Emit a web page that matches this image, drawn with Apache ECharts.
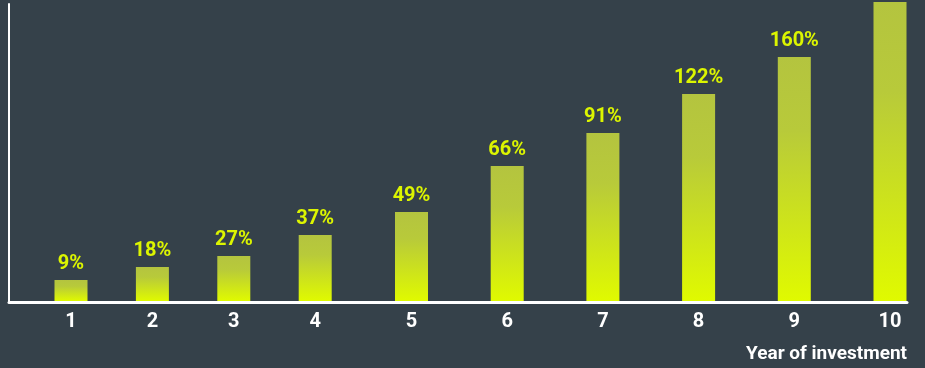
<!DOCTYPE html>
<html>
<head>
<meta charset="utf-8">
<script src="https://cdn.jsdelivr.net/npm/echarts@6/dist/echarts.min.js"></script>
<style>
html,body{margin:0;padding:0;background:#35414a;}
#chart{width:925px;height:368px;}
</style>
</head>
<body>
<div id="chart"></div>
<script>
// Data
const years = ['1', '2', '3', '4', '5', '6', '7', '8', '9', '10'];
// bar heights as drawn in the picture (relative units, 0-300 scale)
const barHeights = [21, 34, 45, 66, 89, 135, 168, 207, 244, 299];
// value labels shown above bars (the last one is outside the picture)
const valueLabels = ['9%', '18%', '27%', '37%', '49%', '66%', '91%', '122%', '160%', ''];
const axisTitle = 'Year of investment';
const firstGroupSize = 4; // years 1-4 are spaced more closely than 5-10

const labelColor = '#dcf500';
const font = 'Roboto';

const barGradient = new echarts.graphic.LinearGradient(0, 0, 0, 1, [
  { offset: 0, color: '#b4c43f' },
  { offset: 0.3, color: '#b8ca3a' },
  { offset: 1, color: '#e0fa00' }
]);

function makeSeries(idx, offset, data) {
  return {
    type: 'bar',
    xAxisIndex: idx,
    yAxisIndex: idx,
    data: data,
    barWidth: 33,
    z: 2,
    itemStyle: { color: barGradient },
    label: {
      show: true,
      position: 'top',
      distance: 6,
      color: labelColor,
      fontFamily: font,
      fontWeight: 'bold',
      fontSize: 20,
      formatter: p => valueLabels[p.dataIndex + offset]
    }
  };
}

function catAxis(idx, cats, gap) {
  return {
    type: 'category',
    gridIndex: idx,
    data: cats,
    boundaryGap: gap,
    axisLine: { show: false },
    axisTick: { show: false },
    axisLabel: {
      color: '#ffffff',
      fontFamily: font,
      fontWeight: 'bold',
      fontSize: 20,
      margin: 11
    }
  };
}

function hiddenY(idx) {
  return { type: 'value', gridIndex: idx, min: 0, max: 300, show: false };
}

const chart = echarts.init(document.getElementById('chart'), null, { renderer: 'canvas' });
chart.setOption({
  backgroundColor: '#35414a',
  animation: false,
  title: {
    text: axisTitle,
    right: 18,
    top: 345,
    padding: 0,
    textStyle: { color: '#ffffff', fontFamily: font, fontWeight: 'bold', fontSize: 19 }
  },
  grid: [
    { left: 30.3, width: 325.6, top: 1, bottom: 67 },
    { left: 411.5, right: 35, top: 1, bottom: 67 },
    { left: 9, right: 18, top: 4, bottom: 66 }
  ],
  xAxis: [
    catAxis(0, years.slice(0, firstGroupSize), true),
    catAxis(1, years.slice(firstGroupSize), false),
    {
      type: 'value', gridIndex: 2, min: 0, max: 1, z: 5,
      axisLine: { show: true, lineStyle: { color: '#ffffff', width: 3 } },
      axisTick: { show: false }, axisLabel: { show: false }, splitLine: { show: false }
    }
  ],
  yAxis: [
    hiddenY(0),
    hiddenY(1),
    {
      type: 'value', gridIndex: 2, min: 0, max: 1, z: 5,
      axisLine: { show: true, lineStyle: { color: '#ffffff', width: 2 } },
      axisTick: { show: false }, axisLabel: { show: false }, splitLine: { show: false }
    }
  ],
  series: [
    Object.assign(makeSeries(0, 0, barHeights.slice(0, firstGroupSize)), {}),
    Object.assign(makeSeries(1, firstGroupSize, barHeights.slice(firstGroupSize)), { clip: false })
  ]
});
</script>
</body>
</html>
